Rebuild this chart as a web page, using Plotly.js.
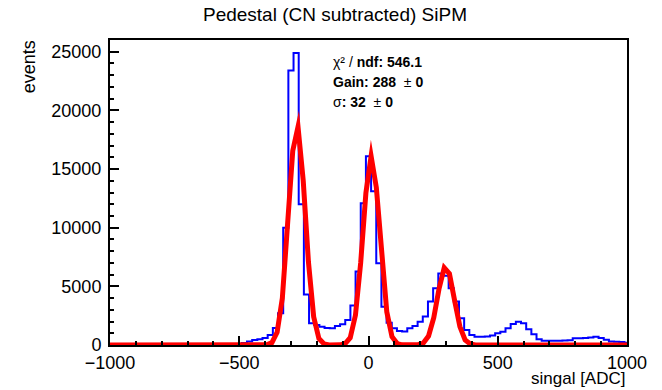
<!DOCTYPE html>
<html>
<head>
<meta charset="utf-8">
<script src="https://cdn.plot.ly/plotly-3.0.1.min.js"></script>
<style>
  html, body { margin: 0; padding: 0; background: #fff; }
  #chart { width: 662px; height: 390px; }
  /* sharp corners on the fitted curve and histogram outline */
  #chart .js-line { stroke-linejoin: miter !important; stroke-miterlimit: 10; }
</style>
</head>
<body>
<div id="chart"></div>
<script>
// Histogram binning (20 ADC per bin, centres from -1000 to 1000)
const binWidth = 20;
const firstBinCenter = -1000;

// Events per bin
const counts = [
  20, 20, 25, 25, 25, 25, 30, 30, 30, 30, 30, 30, 35, 35, 35, 35, 40, 40, 40, 45, 45, 50, 55, 60, 70,
  90, 160, 300, 420, 500, 600, 850, 1450, 2700, 10000, 23400, 24900, 12000, 4300, 1850,
  1700, 1550, 1450, 1420, 1620, 1760, 2130, 3360, 6260, 12090, 16100, 13100, 6970, 3270, 1900,
  1420, 1200, 1150, 1420, 1620, 1990, 2420, 3700, 4830, 6100, 5900, 4830, 3700, 2280, 1280,
  850, 710, 700, 720, 800, 1000, 1140, 1420, 1790, 1990, 1850, 1340, 910, 490, 370,
  370, 360, 370, 380, 400, 570, 580, 600, 650, 710, 600, 450, 300, 280, 250, 200
];

// Fit curve sample points (ADC) and values (events)
const fitX = [
  -1000, -414.1, -393.9, -373.7, -353.5, -333.3, -313.1, -293.0, -272.7, -252.5, -232.3,
  -212.1, -191.9, -171.7, -151.5, -131.3, -111.1, -90.9, -70.7, -50.5, -30.3, -10.1,
  10.1, 30.3, 50.5, 70.7, 90.9, 111.1, 131.3, 151.5, 171.7, 191.9, 212.1, 232.3,
  252.5, 272.7, 292.9, 313.1, 333.3, 353.5, 373.7, 393.9, 414.1, 434.3, 1000
];
const fitY = [
  0, 2, 24, 196, 1078, 3990, 9930, 16560, 18600, 14000, 7070,
  2400, 546, 84, 9, 1, 11, 101, 620, 2540, 7000, 12960,
  16100, 13430, 7520, 2830, 713, 121, 14, 1, 2, 25, 168, 763,
  2330, 4779, 6580, 6080, 3774, 1571, 439, 82, 10, 1, 0
];

// Fit summary lines
const statLines = [
  "\u03c7\u00b2 / <b>ndf: 546.1</b>",
  "<b>Gain: 288</b>  \u00b1 <b>0</b>",
  "\u03c3<b>: 32</b>  \u00b1 <b>0</b>"
];

const chartTitle = "Pedestal (CN subtracted) SiPM";
const xTitle = "singal [ADC]";
const yTitle = "events";

const binCenters = counts.map((_, i) => firstBinCenter + i * binWidth);

const FONT = "'Liberation Sans', Arial, Helvetica, sans-serif";

const histTrace = {
  type: "scatter",
  mode: "lines",
  x: binCenters,
  y: counts,
  line: { shape: "hvh", color: "#0000ff", width: 2 },
  hoverinfo: "x+y"
};

const fitTrace = {
  type: "scatter",
  mode: "lines",
  x: fitX,
  y: fitY,
  line: { color: "#ff0000", width: 5 },
  hoverinfo: "x+y"
};

const statY = [0.928, 0.861, 0.797];
const annotations = statLines.map((t, i) => ({
  text: t,
  xref: "paper", yref: "paper",
  x: 0.4275, y: statY[i],
  xanchor: "left", yanchor: "middle",
  showarrow: false,
  font: { family: FONT, size: 14, color: "#000" }
}));
annotations.push({
  text: xTitle,
  xref: "paper", yref: "paper",
  x: 1, y: -0.111,
  xanchor: "right", yanchor: "middle",
  showarrow: false,
  font: { family: FONT, size: 17, color: "#000" }
});
annotations.push({
  text: yTitle,
  xref: "paper", yref: "paper",
  x: -0.157, y: 0.913,
  xanchor: "center", yanchor: "middle",
  textangle: -90,
  showarrow: false,
  font: { family: FONT, size: 18, color: "#000" }
});

const axisCommon = {
  showline: true, mirror: true, linecolor: "#000", linewidth: 2,
  showgrid: false, zeroline: false,
  ticks: "inside", ticklen: 9, tickwidth: 2, tickcolor: "#000",
  tickformat: "d",
  tickfont: { family: FONT, size: 18, color: "#000" }
};

const layout = {
  width: 662, height: 390,
  margin: { l: 110, r: 35, t: 40, b: 45 },
  paper_bgcolor: "#fff", plot_bgcolor: "#fff",
  showlegend: false,
  title: {
    text: chartTitle,
    font: { family: FONT, size: 19, color: "#000" },
    xref: "container", yref: "container",
    x: 0.506, xanchor: "center",
    y: 0.962, yanchor: "middle"
  },
  xaxis: Object.assign({}, axisCommon, {
    range: [-1000, 1000],
    tickmode: "linear", tick0: 0, dtick: 500,
    ticklabelstandoff: 0,
    minor: { ticks: "inside", dtick: 100, ticklen: 4, tickwidth: 2, tickcolor: "#000" }
  }),
  yaxis: Object.assign({}, axisCommon, {
    range: [0, 26000],
    tickmode: "linear", tick0: 0, dtick: 5000,
    ticklabelstandoff: 3,
    minor: { ticks: "inside", dtick: 1000, ticklen: 4, tickwidth: 2, tickcolor: "#000" }
  }),
  annotations: annotations
};

Plotly.newPlot("chart", [histTrace, fitTrace], layout, { staticPlot: true, displayModeBar: false });
</script>
</body>
</html>
